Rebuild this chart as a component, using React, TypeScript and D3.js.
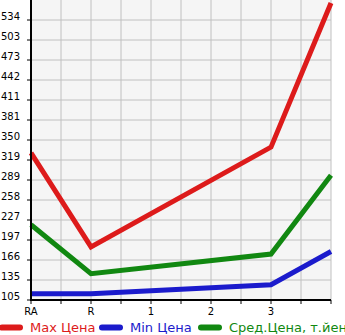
import React from "react";
import * as d3 from "d3";

const categories = ["RA", "R", "1", "2", "3", ""];
const maxPrice: (number | null)[] = [330, 186, null, null, 339, 560];
const minPrice: (number | null)[] = [114, 114, null, null, 128, 179];
const avgPrice: (number | null)[] = [220, 145, null, null, 175, 296];
const yTickLabels = ["105", "135", "166", "197", "227", "258", "289", "319", "350", "381", "411", "442", "473", "503", "534"];
const yBase = 104.6;
const yStep = 30.66;

const W = 345;
const H = 335;
const left = 31;
const right = 331;
const top = 0;
const bottom = 300;

export default function App() {
  const x = d3.scalePoint<string>().domain(categories.map((c, i) => String(i))).range([left, right]);
  const y = d3.scaleLinear().domain([yBase, yBase + yStep * 15]).range([bottom, top]);
  const ticksV = yTickLabels.map((_, i) => yBase + i * yStep);
  const vGrid = d3.range(left, right + 1, 30);

  const line = (vals: (number | null)[]) => {
    const pts = vals
      .map((v, i) => (v == null ? null : ([x(String(i)) as number, y(v)] as [number, number])))
      .filter((p) => p != null) as [number, number][];
    return d3.line()(pts) || "";
  };

  const series = [
    { name: "Max Цена", color: "#dd1b1b", vals: maxPrice },
    { name: "Min Цена", color: "#1b1bcc", vals: minPrice },
    { name: "Сред.Цена, т.йен", color: "#118811", vals: avgPrice },
  ];

  const legendX = [0, 100, 199];

  return (
    <svg width={W} height={H} style={{ position: "absolute", left: 0, top: 0 }} fontFamily="DejaVu Sans, sans-serif">
      <rect x={left} y={top} width={right - left} height={bottom - top} fill="#f5f5f5" />
      {vGrid.map((gx) => (
        <line key={"v" + gx} x1={gx} x2={gx} y1={top} y2={bottom} stroke="#c0c0c0" strokeWidth={1} />
      ))}
      {ticksV.map((v, i) => (
        <line key={"h" + i} x1={left} x2={right} y1={y(v)} y2={y(v)} stroke="#c0c0c0" strokeWidth={1} />
      ))}
      {series.map((s) => (
        <path key={s.name} d={line(s.vals)} fill="none" stroke={s.color} strokeWidth={5} strokeLinejoin="miter" />
      ))}
      <line x1={left} x2={left} y1={top} y2={bottom + 1} stroke="#000" strokeWidth={2} />
      <line x1={left - 1} x2={right} y1={bottom} y2={bottom} stroke="#000" strokeWidth={2} />
      {ticksV.map((v, i) => (
        <g key={"yt" + i}>
          <line x1={left - 4} x2={left} y1={y(v)} y2={y(v)} stroke="#000" strokeWidth={1} />
          <text x={1} y={y(v) - 0.5} fontSize={10} fill="#000">
            {yTickLabels[i]}
          </text>
        </g>
      ))}
      {vGrid.map((gx) => (
        <line key={"xt" + gx} x1={gx} x2={gx} y1={bottom} y2={bottom + 4} stroke="#000" strokeWidth={1} />
      ))}
      {categories.map((c, i) => (
        <text key={"xl" + i} x={x(String(i)) as number} y={315} fontSize={10} textAnchor="middle" fill="#000">
          {c}
        </text>
      ))}
      {series.map((s, i) => (
        <g key={"lg" + i}>
          <line x1={legendX[i] + 2} x2={legendX[i] + 20} y1={327.5} y2={327.5} stroke={s.color} strokeWidth={6} strokeLinecap="round" />
          <text x={legendX[i] + 30} y={332} fontSize={13} fill={s.color}>
            {s.name}
          </text>
        </g>
      ))}
    </svg>
  );
}
